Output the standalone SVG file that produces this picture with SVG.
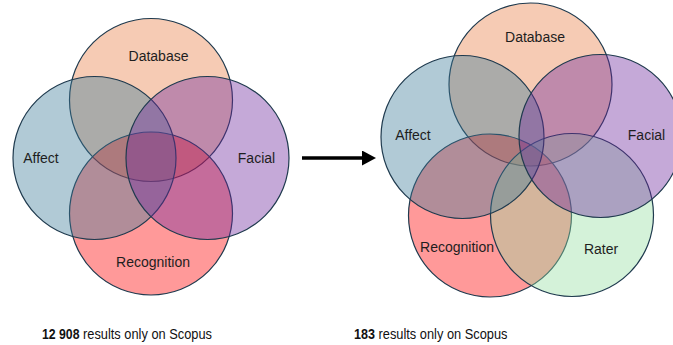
<svg xmlns="http://www.w3.org/2000/svg" width="673" height="345" viewBox="0 0 673 345">
<defs>
<style>
.c{fill-opacity:0.4;stroke:#1f3a4e;stroke-width:1.2}
.db{fill:#e87d44}.af{fill:#3c7b99}.fa{fill:#6e289e}.re{fill:#ff0000}.ra{fill:#94dfa0}
.lb{font-family:"Liberation Sans",Arial,sans-serif;font-size:14px;fill:#1e1e1e;text-anchor:middle}
.cap{font-family:"Liberation Sans",Arial,sans-serif;font-size:14.5px;fill:#111}
.b{font-weight:bold}
</style>
<marker id="ah" viewBox="0 0 14 15" refX="0" refY="7.5" markerWidth="14" markerHeight="15" markerUnits="userSpaceOnUse" orient="auto">
<path d="M0,0 L14,7.5 L0,15 z" fill="#000"/>
</marker>
</defs>
<rect width="673" height="345" fill="#fff"/>

<g id="left-venn">
<g id="l-database"><circle class="c db" cx="151" cy="100" r="81.5"/><text class="lb" x="158.5" y="61">Database</text></g>
<g id="l-recognition"><circle class="c re" cx="151" cy="213.5" r="81.5"/><text class="lb" x="153" y="267">Recognition</text></g>
<g id="l-affect"><circle class="c af" cx="94.5" cy="158" r="81.5"/><text class="lb" x="41" y="163">Affect</text></g>
<g id="l-facial"><circle class="c fa" cx="207.5" cy="158" r="81.5"/><text class="lb" x="256.5" y="163">Facial</text></g>
</g>

<g id="right-venn">
<g id="r-database"><circle class="c db" cx="530.5" cy="84.5" r="81.5"/><text class="lb" x="535" y="42">Database</text></g>
<g id="r-recognition"><circle class="c re" cx="490" cy="215.5" r="81.5"/><text class="lb" x="457" y="251.5">Recognition</text></g>
<g id="r-rater"><circle class="c ra" cx="572" cy="215" r="81.5"/><text class="lb" x="601" y="254">Rater</text></g>
<g id="r-affect"><circle class="c af" cx="462.5" cy="137" r="81.5"/><text class="lb" x="413" y="139.5">Affect</text></g>
<g id="r-facial"><circle class="c fa" cx="600.5" cy="136" r="81.5"/><text class="lb" x="646.5" y="139.5">Facial</text></g>
</g>

<g id="connectors">
<line x1="302" y1="158" x2="362" y2="158" stroke="#000" stroke-width="3.6" marker-end="url(#ah)"/>
</g>

<g id="captions">
<text class="cap b" x="42" y="339" textLength="37.5" lengthAdjust="spacingAndGlyphs">12 908</text>
<text class="cap" x="83" y="339" textLength="129" lengthAdjust="spacingAndGlyphs">results only on Scopus</text>
<text class="cap b" x="354" y="339" textLength="21" lengthAdjust="spacingAndGlyphs">183</text>
<text class="cap" x="378.5" y="339" textLength="129" lengthAdjust="spacingAndGlyphs">results only on Scopus</text>
</g>
</svg>
